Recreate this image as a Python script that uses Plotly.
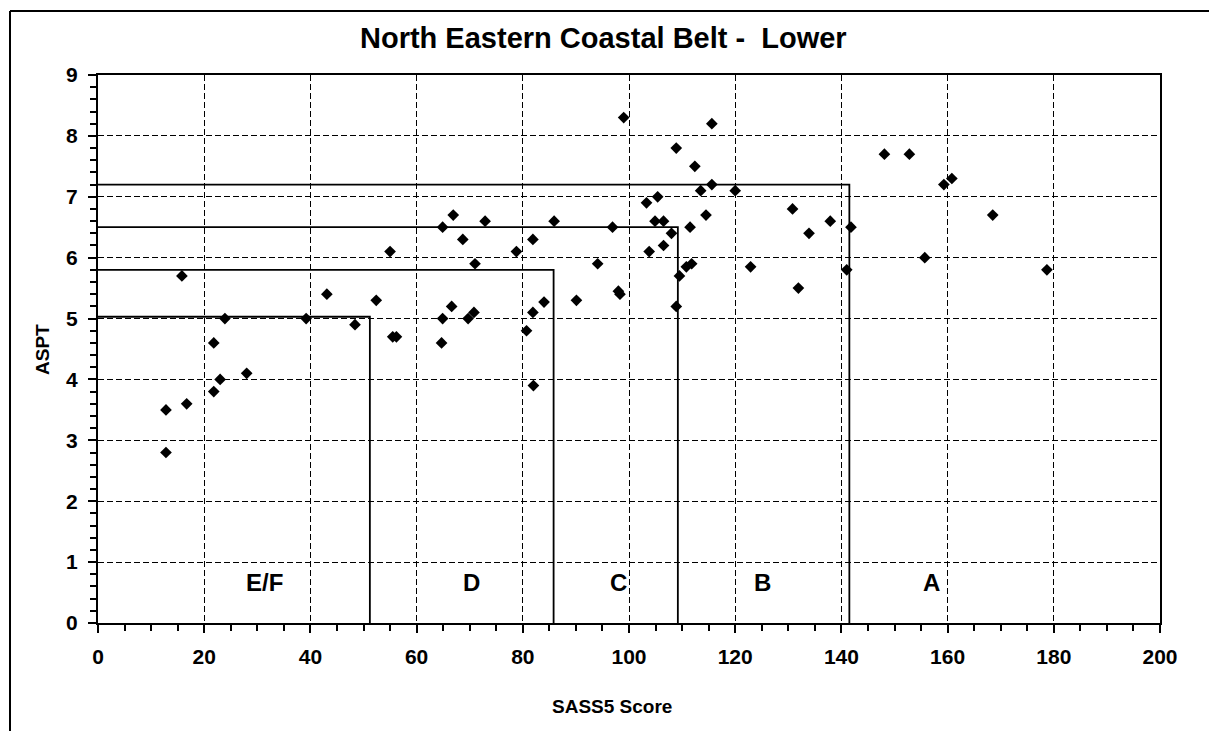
import plotly.graph_objects as go

# Data
sass5 = [12.8, 12.8, 16.7, 15.8, 21.8, 21.8, 23.0, 23.9, 28.0, 39.2,
         43.1, 48.4, 52.4, 55.0, 55.5, 56.2, 64.7, 64.9, 64.9, 66.6,
         66.9, 68.7, 69.7, 70.8, 71.0, 72.9, 78.8, 80.7, 81.9, 81.9,
         82.0, 84.0, 85.9, 90.1, 94.1, 96.9, 98.0, 98.3, 99.0, 103.3,
         103.8, 104.9, 105.4, 106.5, 106.5, 108.0, 108.9, 108.9, 109.5, 110.8,
         111.8, 111.5, 112.4, 113.5, 114.5, 115.6, 115.6, 120.0, 122.9, 130.8,
         131.9, 133.9, 137.9, 141.0, 141.8, 148.1, 152.8, 155.7, 159.3, 160.8,
         168.5, 178.7]
aspt = [2.8, 3.5, 3.6, 5.7, 3.8, 4.6, 4.0, 5.0, 4.1, 5.0,
        5.4, 4.9, 5.3, 6.1, 4.7, 4.7, 4.6, 5.0, 6.5, 5.2,
        6.7, 6.3, 5.0, 5.1, 5.9, 6.6, 6.1, 4.8, 5.1, 6.3,
        3.9, 5.27, 6.6, 5.3, 5.9, 6.5, 5.45, 5.4, 8.3, 6.9,
        6.1, 6.6, 7.0, 6.6, 6.2, 6.4, 7.8, 5.2, 5.7, 5.85,
        5.9, 6.5, 7.5, 7.1, 6.7, 7.2, 8.2, 7.1, 5.85, 6.8,
        5.5, 6.4, 6.6, 5.8, 6.5, 7.7, 7.7, 6.0, 7.2, 7.3,
        6.7, 5.8]

# Class boundaries (SASS5 score limit, ASPT limit)
class_names = ["E/F", "D", "C", "B", "A"]
score_limits = [51.2, 85.8, 109.2, 141.5]
aspt_limits = [5.03, 5.8, 6.5, 7.2]
label_x = [31.4, 70.4, 98.1, 125.2, 157.0]
label_y = 0.66

title = "North Eastern Coastal Belt -  Lower"
x_title = "SASS5 Score"
y_title = "ASPT"

font_b = "Liberation Sans"

# plot area in pixels: x 98..1160, y 75..623
L, R, T, B = 98, 1160, 75, 623
W, H = 1209, 731


def px_to_paper(px, py):
    return (px - L) / (R - L), (B - py) / (B - T)


fig = go.Figure()

# Class boundary lines
for sx, ay in zip(score_limits, aspt_limits):
    fig.add_trace(go.Scatter(
        x=[0, sx, sx], y=[ay, ay, 0], mode="lines",
        line=dict(color="black", width=1.8), hoverinfo="skip",
        showlegend=False))

fig.add_trace(go.Scatter(
    x=sass5, y=aspt, mode="markers",
    marker=dict(symbol="diamond", size=9, color="black", line=dict(width=0)),
    showlegend=False))

for name, lx in zip(class_names, label_x):
    fig.add_annotation(x=lx, y=label_y, text="<b>" + name + "</b>", showarrow=False,
                       font=dict(family=font_b, size=24, color="black"),
                       xref="x", yref="y")

ax_, ay_ = px_to_paper(612, 706)
fig.add_annotation(x=ax_, y=ay_, xref="paper", yref="paper", text="<b>" + x_title + "</b>",
                   showarrow=False, font=dict(family=font_b, size=19, color="black"),
                   xanchor="center", yanchor="middle")
bx_, by_ = px_to_paper(42, 350)
fig.add_annotation(x=bx_, y=by_, xref="paper", yref="paper", text="<b>" + y_title + "</b>",
                   showarrow=False, textangle=-90,
                   font=dict(family=font_b, size=19, color="black"),
                   xanchor="center", yanchor="middle")
tx_, ty_ = px_to_paper(603, 38)
fig.add_annotation(x=tx_, y=ty_, xref="paper", yref="paper", text="<b>" + title + "</b>",
                   showarrow=False, font=dict(family=font_b, size=29, color="black"),
                   xanchor="center", yanchor="middle")

# outer frame (top and left edges)
fl, ft = px_to_paper(10, 11)
fb = px_to_paper(10, 740)[1]
fr = px_to_paper(1215, 11)[0]
fig.add_shape(type="line", xref="paper", yref="paper", x0=fl, y0=ft, x1=fr, y1=ft,
              line=dict(color="black", width=2))
fig.add_shape(type="line", xref="paper", yref="paper", x0=fl, y0=ft, x1=fl, y1=fb,
              line=dict(color="black", width=2))

common = dict(showgrid=True, gridcolor="black", gridwidth=1, griddash="6px,3px",
              showline=True, linecolor="black", linewidth=2, mirror=True,
              ticks="outside", ticklen=8, tickwidth=1.5, tickcolor="black",
              zeroline=False,
              tickfont=dict(family=font_b, size=21, color="black"))

fig.update_xaxes(range=[0, 200], dtick=20, tick0=0,
                 minor=dict(ticks="outside", ticklen=6, dtick=5, tickwidth=1.5,
                            tickcolor="black", showgrid=False),
                 ticklabelstandoff=6, tickprefix="<b>", ticksuffix="</b>", **common)
fig.update_yaxes(range=[0, 9], dtick=1, tick0=0,
                 minor=dict(ticks="outside", ticklen=6, dtick=0.2, tickwidth=1.5,
                            tickcolor="black", showgrid=False),
                 ticklabelstandoff=6, tickprefix="<b>", ticksuffix="</b>", **common)

fig.update_layout(width=W, height=H,
                  margin=dict(l=L, r=W - R, t=T, b=H - B, autoexpand=False),
                  plot_bgcolor="white", paper_bgcolor="white", showlegend=False,
                  font=dict(family=font_b, color="black"))

fig.write_html("out.html", config={"displayModeBar": False},
               post_script="document.body.style.margin='0';document.body.style.overflow='hidden';")
